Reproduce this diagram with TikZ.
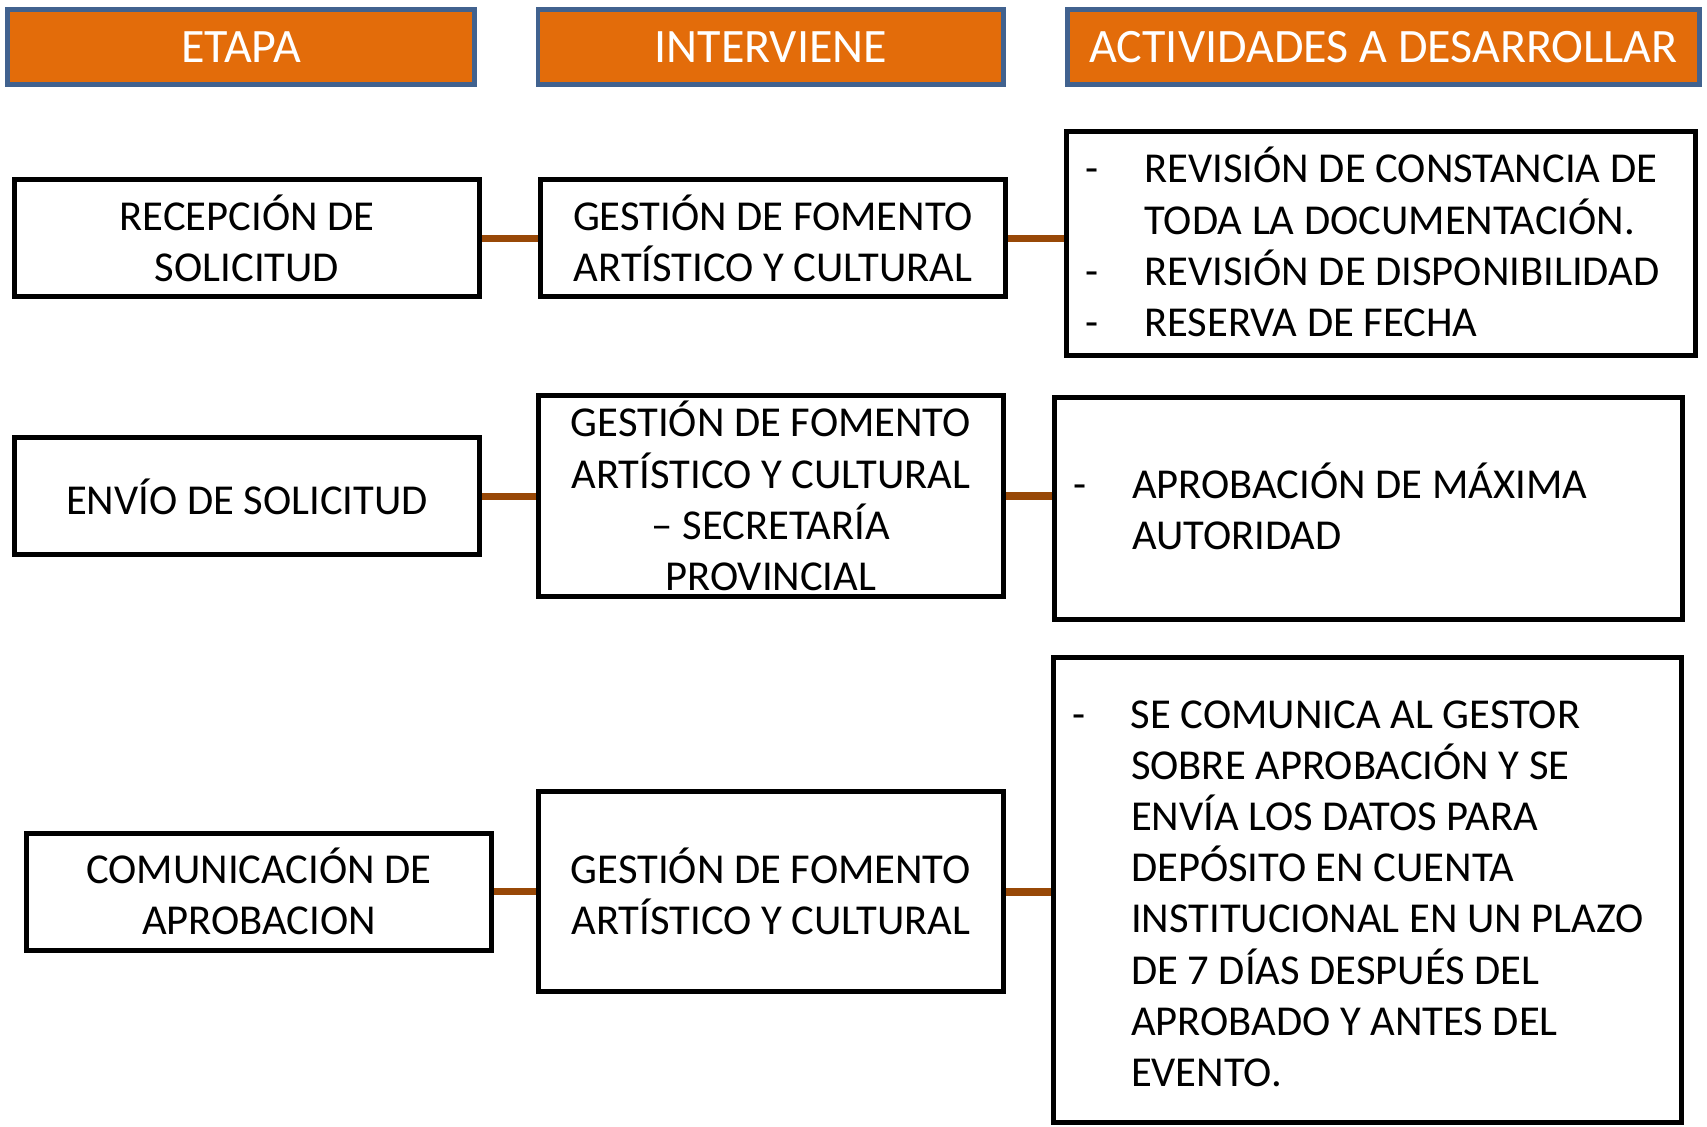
\documentclass[tikz,border=0pt]{standalone}
\usepackage{fontspec}
\setmainfont{Carlito}
\definecolor{hdrorange}{HTML}{E36C0A}
\definecolor{hdrblue}{HTML}{41628F}
\definecolor{linkbrown}{HTML}{984807}
\newcommand\dashitem{\makebox[29.5pt][l]{-}}
\newcommand\dashgap{\makebox[29.5pt]{}}
\begin{document}
\begin{tikzpicture}[x=0.5pt,y=-0.5pt,
  hdr/.style={draw=hdrblue, line width=2.4pt, fill=hdrorange, text=white,
    font=\fontsize{24}{29}\selectfont, inner sep=0pt, minimum height=37.6pt},
  box/.style={draw=black, line width=2.5pt, fill=white, align=center, inner sep=0pt,
    font=\fontsize{21.3}{25.6}\selectfont},
  link/.style={draw=linkbrown, line width=3.85pt},
  acttext/.style={anchor=west, align=left, inner sep=0pt,
    font=\fontsize{21.3}{25.6}\selectfont}]
\path[use as bounding box] (0,0) rectangle (1707,1127);
% headers
\node[hdr, minimum width=233.6pt] (h1) at (241,47) {ETAPA};
\node[hdr, minimum width=232.8pt] (h2) at (770.8,47) {INTERVIENE};
\node[hdr, minimum width=316.1pt] (h3) at (1383.5,47) {ACTIVIDADES A DESARROLLAR};
% row 1
\node[box, minimum width=232.5pt, minimum height=58.5pt] (r1a) at (247,238.5) {RECEPCIÓN DE\\SOLICITUD};
\node[box, minimum width=232.5pt, minimum height=58.5pt] (r1b) at (773,238.5) {GESTIÓN DE FOMENTO\\ARTÍSTICO Y CULTURAL};
\node[box, minimum width=314.5pt, minimum height=112pt] (r1c) at (1381,244) {};
\node[acttext] (r1t) at ([xshift=10.5pt,yshift=1pt]r1c.west) {\dashitem REVISIÓN DE CONSTANCIA DE\\\dashgap TODA LA DOCUMENTACIÓN.\\\dashitem REVISIÓN DE DISPONIBILIDAD\\\dashitem RESERVA DE FECHA};
% row 2
\node[box, minimum width=232.5pt, minimum height=58.5pt] (r2a) at (247,496.5) {ENVÍO DE SOLICITUD};
\node[box, minimum width=232.7pt, minimum height=100.4pt] (r2b) at (770.8,496) {GESTIÓN DE FOMENTO\\ARTÍSTICO Y CULTURAL\\– SECRETARÍA\\PROVINCIAL};
\node[box, minimum width=314.3pt, minimum height=110.8pt] (r2c) at (1368.5,508.3) {};
\node[acttext] (r2t) at ([xshift=10.5pt,yshift=1pt]r2c.west) {\dashitem APROBACIÓN DE MÁXIMA\\\dashgap AUTORIDAD};
% row 3
\node[box, minimum width=232.5pt, minimum height=58.5pt] (r3a) at (259,891.6) {COMUNICACIÓN DE\\APROBACION};
\node[box, minimum width=232.7pt, minimum height=99.85pt] (r3b) at (770.8,891.7) {GESTIÓN DE FOMENTO\\ARTÍSTICO Y CULTURAL};
\node[box, minimum width=314.2pt, minimum height=232.3pt] (r3c) at (1367.3,890.2) {};
\node[acttext] (r3t) at ([xshift=10.5pt,yshift=-1.7pt]r3c.west) {\dashitem SE COMUNICA AL GESTOR\\\dashgap SOBRE APROBACIÓN Y SE\\\dashgap ENVÍA LOS DATOS PARA\\\dashgap DEPÓSITO EN CUENTA\\\dashgap INSTITUCIONAL EN UN PLAZO\\\dashgap DE 7 DÍAS DESPUÉS DEL\\\dashgap APROBADO Y ANTES DEL\\\dashgap EVENTO.};
% connectors
\draw[link] (r1a.east) -- (r1a.east -| r1b.west);
\draw[link] (r1b.east) -- (r1b.east -| r1c.west);
\draw[link] (r2a.east) -- (r2a.east -| r2b.west);
\draw[link] (r2b.east) -- (r2b.east -| r2c.west);
\draw[link] (r3a.east) -- (r3a.east -| r3b.west);
\draw[link] (r3b.east) -- (r3b.east -| r3c.west);
\end{tikzpicture}
\end{document}
